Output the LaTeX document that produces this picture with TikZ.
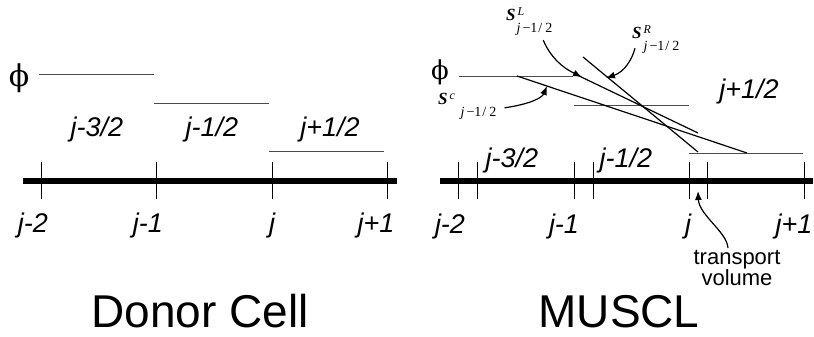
\documentclass[tikz,border=0pt]{standalone}
\usepackage{fontspec}
\setmainfont{Liberation Serif}
\setsansfont{Liberation Sans}
\newfontfamily\phifont{DejaVu Serif}
\usetikzlibrary{arrows.meta,positioning,calc}

% slope label: bold S, superscript #1, subscript moved right by #2
\newcommand{\slopelabel}[2]{%
  {\fontsize{17}{17}\selectfont\bfseries\itshape S}%
  \rlap{\raisebox{5pt}{\fontsize{12}{12}\selectfont\itshape\,#1}}%
  \hspace{#2}\raisebox{-12pt}{\fontsize{14}{14}\selectfont\itshape j\upshape\kern2pt−1\kern1pt/\kern3pt2}}

\begin{document}
\begin{tikzpicture}[
    x=1pt, y=-1pt,
    >=Latex,
    axis/.style={line width=5.5pt},
    tick/.style={line width=1pt},
    level/.style={line width=0.9pt, black!70},
    slopeline/.style={line width=1.2pt},
    arrow/.style={-{Latex[length=9pt,width=7pt]}, line width=1.2pt},
    lbl/.style={font=\sffamily\itshape\fontsize{27}{27}\selectfont, anchor=base, inner sep=0pt},
    title/.style={font=\sffamily\fontsize{46}{46}\selectfont, anchor=base, inner sep=0pt},
    slabel/.style={anchor=base west, inner sep=0pt},
    phisym/.style={font=\phifont\fontsize{30}{30}\selectfont, inner sep=0pt}
]
\useasboundingbox (0,0) rectangle (814,337);

% Donor Cell
\draw[axis] (23,181) -- (397,181);
\foreach \x in {41,156,272,387}
  \draw[tick] (\x,162) -- (\x,199);
\draw[level] (39,74) -- (154,74);
\draw[level] (154,103) -- (269,103);
\draw[level] (269,151) -- (384,151);

\node[phisym] (phil) at (19,78) {ϕ};
\node[lbl] (ljm2) at (33,232) {j-2};
\node[lbl] (ljm1) at (148,232) {j-1};
\node[lbl] (lj) at (272,232) {j};
\node[lbl] (ljp1) at (376,232) {j+1};
\node[lbl] (lcm3) at (97,136) {j-3/2};
\node[lbl] (lcm1) at (212,136) {j-1/2};
\node[lbl] (lcp1) at (330,136) {j+1/2};
\node[title] (donor) at (200,327) {Donor Cell};

% MUSCL
\draw[axis] (440,181) -- (813,181);
\foreach \x in {458,477,574,593,689,707,804}
  \draw[tick] (\x,162) -- (\x,199);
\draw[level] (459,76) -- (573,76);
\draw[level] (574,105) -- (689,105);
\draw[level] (689,153) -- (803,153);
\draw[slopeline] (517,76) -- (747,153);
\draw[slopeline] (575,74) -- (698,133);
\draw[slopeline] (583,57) -- (698,152);

\node[phisym, font=\phifont\fontsize{26}{26}\selectfont] (phir) at (440,72) {ϕ};
\node[lbl] (rjm2) at (450,233) {j-2};
\node[lbl] (rjm1) at (564,233) {j-1};
\node[lbl] (rj) at (688,233) {j};
\node[lbl] (rjp1) at (794,233) {j+1};
\node[lbl] (rcm3) at (512,167) {j-3/2};
\node[lbl] (rcm1) at (626,167) {j-1/2};
\node[lbl] (rcp1) at (749,99) {j+1/2};
\node[title] (muscl) at (619,327) {MUSCL};

\node[slabel] (sl) at (506,21) {\slopelabel{L}{1pt}};
\node[slabel] (sr) at (632,39) {\slopelabel{R}{2pt}};
\node[slabel] (sc) at (438,104) {\slopelabel{c}{13pt}};
\node[font=\sffamily\fontsize{22}{20}\selectfont, align=center, anchor=north, inner sep=0pt] (tv) at (737,250) {transport\\volume};

\coordinate (tipl) at (582,77);
\coordinate (tipr) at (606,78);
\coordinate (tipc) at (547,86);
\coordinate (tipv) at (698,191);

\draw[arrow] ([xshift=14pt,yshift=-4pt]sl.south) .. controls (550,56) and (561,67) .. (tipl);
\draw[arrow] ([xshift=3pt,yshift=6pt]sr.south west) .. controls (632,60) and (624,72) .. (tipr);
\draw[arrow] ([xshift=8pt,yshift=-2pt]sc.east) .. controls (530,104) and (542,98) .. (tipc);
\draw[arrow] ([xshift=-9pt,yshift=2pt]tv.north) .. controls (727,232) and (699,215) .. (tipv);
\end{tikzpicture}
\end{document}
